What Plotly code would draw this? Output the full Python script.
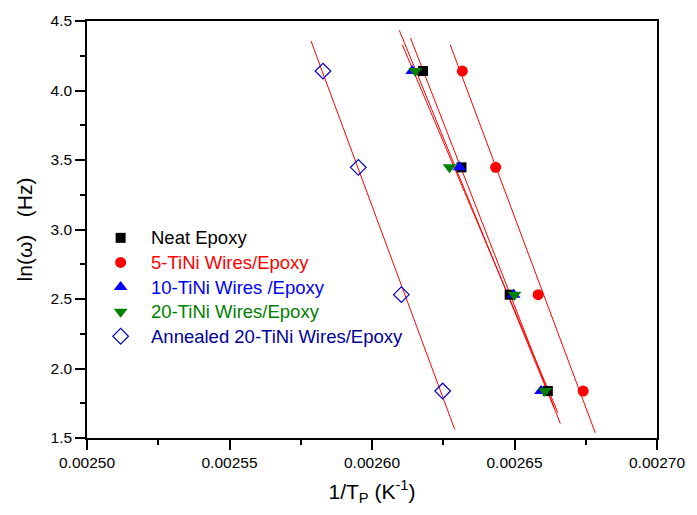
import numpy as np
import plotly.graph_objects as go

# ln(omega) values (omega = 2*pi*f, f = 10, 5, 2, 1 Hz)
ln_omega = [4.140, 3.447, 2.531, 1.838]

series_names = ["Neat Epoxy", "5-TiNi Wires/Epoxy", "10-TiNi Wires /Epoxy",
                "20-TiNi Wires/Epoxy", "Annealed 20-TiNi Wires/Epoxy"]
neat_x = [0.0026179, 0.0026314, 0.0026483, 0.0026617]
tini5_x = [0.0026317, 0.0026434, 0.0026583, 0.0026741]
tini10_x = [0.0026141, 0.0026307, 0.0026497, 0.0026593]
tini20_x = [0.0026152, 0.0026272, 0.0026500, 0.0026607]
annealed_x = [0.0025828, 0.0025952, 0.0026103, 0.0026248]

x_tick_vals = [0.00250, 0.00255, 0.00260, 0.00265, 0.00270]
x_tick_text = ["0.00250", "0.00255", "0.00260", "0.00265", "0.00270"]
y_tick_vals = [1.5, 2.0, 2.5, 3.0, 3.5, 4.0, 4.5]
y_tick_text = ["1.5", "2.0", "2.5", "3.0", "3.5", "4.0", "4.5"]

styles = [
    dict(symbol="square", size=10, color="#000000", text="#000000", open=False),
    dict(symbol="circle", size=11, color="#ff0000", text="#ff0000", open=False),
    dict(symbol="triangle-up", size=12, color="#0000ff", text="#0000ff", open=False),
    dict(symbol="triangle-down", size=12, color="#008000", text="#008000", open=False),
    dict(symbol="diamond-open", size=12, color="#0000cc", text="#000099", open=True),
]
xs_all = [neat_x, tini5_x, tini10_x, tini20_x, annealed_x]

FONT = "Liberation Sans, Arial, sans-serif"

fig = go.Figure()

# fitted lines
for xs in xs_all:
    xa = np.array(xs)
    ya = np.array(ln_omega)
    k, b = np.polyfit(xa, ya, 1)
    rng = xa.max() - xa.min()
    xl = np.array([xa.min() - 0.1 * rng, xa.max() + 0.1 * rng])
    fig.add_trace(go.Scatter(x=xl, y=k * xl + b, mode="lines",
                             line=dict(color="#ff0000", width=1),
                             showlegend=False, hoverinfo="skip"))

def make_marker(st):
    m = dict(symbol=st["symbol"], size=st["size"], color=st["color"])
    m["line"] = dict(color=st["color"], width=1.2) if st["open"] else dict(width=0)
    return m

for name, xs, st in zip(series_names, xs_all, styles):
    fig.add_trace(go.Scatter(x=xs, y=ln_omega, mode="markers",
                             marker=make_marker(st), name=name, showlegend=False))

# custom legend (paper-fraction positions on an invisible overlay axis)
legend_sym_x = 0.059
legend_txt_x = 0.108
legend_rows = [0.480, 0.421, 0.362, 0.303, 0.244]
for name, st, ry in zip(series_names, styles, legend_rows):
    fig.add_trace(go.Scatter(x=[legend_sym_x], y=[ry], mode="markers",
                             marker=make_marker(st), xaxis="x2", yaxis="y2",
                             showlegend=False, hoverinfo="skip"))
    fig.add_annotation(x=legend_txt_x, y=ry, xref="paper", yref="paper",
                       text=name, showarrow=False, xanchor="left", yanchor="middle",
                       font=dict(family=FONT, size=18.5, color=st["text"]))

axis_font = dict(family=FONT, size=15.5, color="#000000")

fig.update_layout(
    width=697, height=515,
    margin=dict(l=87, r=30, t=13, b=77),
    paper_bgcolor="white", plot_bgcolor="white",
    font=dict(family=FONT, color="#000000"),
    showlegend=False,
    xaxis=dict(range=[0.00250, 0.00270], tickvals=x_tick_vals, ticktext=x_tick_text,
               ticks="outside", ticklen=10, tickwidth=1.5, tickcolor="black",
               showline=True, linecolor="black", linewidth=1.5, mirror=True,
               showgrid=False, zeroline=False, tickfont=axis_font,
               ticklabeloverflow="allow",
               minor=dict(ticks="outside", ticklen=5, tickwidth=1.5, tickcolor="black",
                          dtick=0.000025, showgrid=False),
               title=dict(text="1/T<sub>P</sub> (K<sup>-1</sup>)",
                          font=dict(family=FONT, size=21), standoff=14)),
    yaxis=dict(range=[1.5, 4.5], tickvals=y_tick_vals, ticktext=y_tick_text,
               ticks="outside", ticklen=10, tickwidth=1.5, tickcolor="black",
               showline=True, linecolor="black", linewidth=1.5, mirror=True,
               showgrid=False, zeroline=False, tickfont=axis_font,
               minor=dict(ticks="outside", ticklen=5, tickwidth=1.5, tickcolor="black",
                          dtick=0.25, showgrid=False),
               title=dict(text="ln(ω)   (Hz)", font=dict(family=FONT, size=21),
                          standoff=12)),
    xaxis2=dict(range=[0, 1], overlaying="x", visible=False, fixedrange=True),
    yaxis2=dict(range=[0, 1], overlaying="y", visible=False, fixedrange=True),
)

fig.write_html("out.html",
               config={"displayModeBar": False},
               post_script="document.body.style.margin='0';"
                           "document.body.style.overflow='hidden';")
